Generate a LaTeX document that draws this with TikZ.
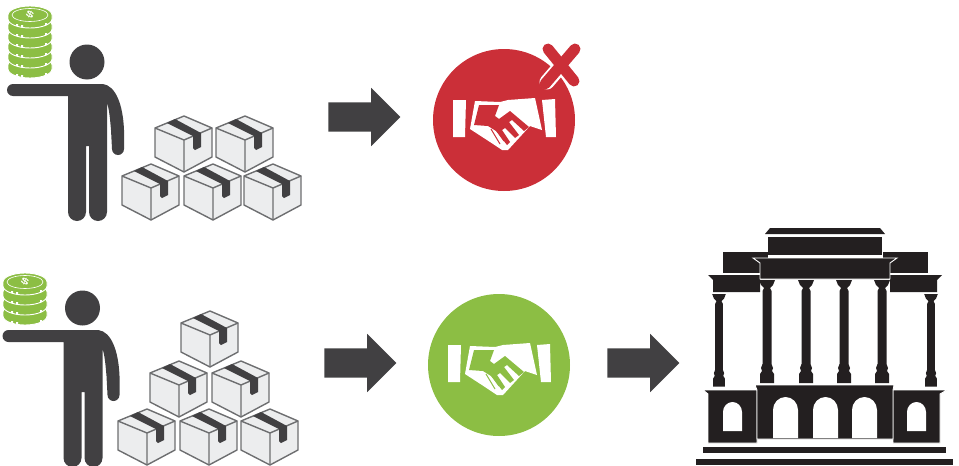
\documentclass[tikz,border=0pt]{standalone}
\usepackage{fontspec}
\setsansfont{Liberation Sans}
\usetikzlibrary{shapes.arrows}
\definecolor{figure}{HTML}{414042}
\definecolor{stone}{HTML}{231F20}
\definecolor{carton}{HTML}{ECEDEE}
\definecolor{cartonline}{HTML}{6D6E70}
\definecolor{dealred}{HTML}{CB2F38}
\definecolor{dealgreen}{HTML}{8CBE44}
\begin{document}
\begin{tikzpicture}[
  x=1pt, y=-1pt,
  blockarrow/.style={single arrow, fill=figure, inner sep=0pt, outer sep=0pt, text height=29pt, text depth=0pt,
    minimum height=72pt, single arrow head extend=14.5pt, single arrow head indent=0pt},
  deal/.style={circle, inner sep=0pt, minimum size=142pt},
  person/.pic={
    \fill[figure] (87,62) circle[radius=17.5];
    \fill[figure] (13,84) -- (103,84) .. controls (116,86) and (123,105) .. (124,130) -- (124,149)
      arc[start angle=0, end angle=180, radius=6] -- (111,130) .. controls (110,118) and (109,108) .. (107,103)
      -- (107,212) arc[start angle=0, end angle=180, radius=9] -- (89,146) -- (86,146) -- (86,212)
      arc[start angle=0, end angle=180, radius=9] -- (68,96) -- (13,96)
      arc[start angle=90, end angle=270, radius=6] -- cycle;
  },
  carton/.pic={
    \filldraw[fill=carton, draw=cartonline, line width=1.4pt, line join=round]
      (0,0) -- (-29,-12) -- (0,-24) -- (28,-12) -- (28,17) -- (0,32) -- (-29,17) -- (-29,-12);
    \draw[cartonline, line width=1.4pt] (0,0) -- (28,-12) (0,0) -- (0,32);
    \fill[figure] (-17,-17) -- (-9,-21) -- (17,-7) -- (17,7) -- (11,10) -- (9,8) -- (9,-4) -- cycle;
  },
  coins/.pic={
    \foreach \k in {#1,...,0}{
      \filldraw[fill=dealgreen, draw=white, line width=.9pt] (-22,10*\k) -- (-22,10*\k+4)
        arc[start angle=180, end angle=0, x radius=22, y radius=9] -- (22,10*\k)
        arc[start angle=0, end angle=-180, x radius=22, y radius=9] -- cycle;
      \fill[white] (-14,10*\k+9) rectangle ++(2,2) (-9,10*\k+10) rectangle ++(2,2) (15,10*\k+8) rectangle ++(2,2);
    }
    \draw[white, line width=.6pt] (0,0) ellipse[x radius=18, y radius=6.5];
    \node[white, inner sep=0pt, font=\sffamily\bfseries\Large, rotate=-25, yscale=.6] (dollar) at (0,0) {\$};
  },
  shake/.pic={
    \fill[white] (-51,-20) -- (-38,-20) -- (-39,17) -- (-51,17) -- cycle;
    \fill[white] (38,-20) -- (51,-21) -- (52,17) -- (42,17) -- cycle;
    \fill[white] (-29,-19) -- (-4,-18) -- (4,-20) -- (31,-22) -- (38,10) -- (26,6) -- (4,30) -- (-2,30) -- (-14,22) -- (-34,9) -- cycle;
    \fill[#1] (-25,-15) -- (-5,-15) -- (-9,-4) -- (-5,-1) -- (6,-9) -- (25,7) -- (20,11) -- (8,0) -- (5,2)
      -- (15,15) -- (11,18) -- (1,8) -- (-2,10) -- (6,22) -- (3,25) -- (-8,11) -- (-16,6) -- (-30,5) -- cycle;
    \draw[#1, line width=1pt] (-13,9) -- (-4,24) (-9,8) -- (0,21);
  },
  column/.pic={
    \fill[stone] (-8,0) -- (8,0) -- (6,5) -- (3,8) -- (4.5,11) -- (4.5,84) -- (6,88) -- (5,91) -- (7,94) -- (7,103)
      -- (-7,103) -- (-7,94) -- (-5,91) -- (-6,88) -- (-4.5,84) -- (-4.5,11) -- (-3,8) -- (-6,5) -- cycle;
  },
  archblock/.style={fill=stone, draw=white, line width=.9pt},
]
\useasboundingbox (0,0) rectangle (959,466);
% top row
\pic (manA) at (0,0) {person};
\pic (coinA) at (30,15) {coins=5};
\foreach \x/\y in {184/140,245/140,151/188,213/188,273/188}{
  \pic at (\x,\y) {carton};
}
\node[blockarrow] (arrowA) at (357,117) {};
\node[deal, fill=dealred] (failed) at (504,120) {};
\pic at (failed.center) {shake=dealred};
\draw[white, line width=15pt, line cap=round] (577,47) -- (547,82);
\draw[dealred, line width=11pt, line cap=round] (548,49) -- (574,81) (575,49) -- (545,84);
% bottom row
\pic (manB) at (-4.5,246) {person};
\pic (coinB) at (25,282) {coins=3};
\foreach \x/\y in {210/335,179/385,241/385,147/433,209/433,270/433}{
  \pic at (\x,\y) {carton};
}
\node[blockarrow] (arrowB) at (353,363) {};
\node[deal, fill=dealgreen] (agreed) at (499,365) {};
\pic at (agreed.center) {shake=dealgreen};
\node[blockarrow] (arrowC) at (636,363) {};
% building
\fill[stone] (770,228) -- (880,228) -- (885,234) -- (765,234) -- cycle;
\fill[stone] (768,237) rectangle (882,255);
\foreach \xa/\xb in {723/768,883/928}{
  \fill[stone] (\xa,252) rectangle (\xb,273);
}
\fill[stone] (708,275) -- (760,275) -- (760,292) -- (713,292) -- (713,280) -- cycle;
\fill[stone] (890,275) -- (942,275) -- (937,280) -- (937,292) -- (890,292) -- cycle;
\foreach \x in {719,931}{
  \pic[xscale=.85, yscale=.9] at (\x,294) {column};
}
\foreach \x in {767,806,844,882}{
  \pic at (\x,280) {column};
}
\draw[archblock] (753,258) -- (897,258) -- (890,263) -- (890,279) -- (760,279) -- (760,263) -- cycle;
\draw[archblock] (703,390) -- (757,390) -- (757,443) -- (708,443) -- (708,394) -- cycle;
\draw[archblock] (947,390) -- (893,390) -- (893,443) -- (940,443) -- (940,394) -- cycle;
\draw[archblock] (755,385) -- (894,385) -- (893,390) -- (893,439) -- (757,439) -- (757,390) -- cycle;
\foreach \x in {773,813,852}{
  \fill[white] (\x,438) -- (\x,410) arc[start angle=180, end angle=360, x radius=12.5, y radius=13] -- (\x+25,438) -- cycle;
}
\foreach \x in {723,907}{
  \fill[white] (\x,431) -- (\x,412) arc[start angle=180, end angle=360, x radius=9.5, y radius=10] -- (\x+19,431) -- cycle;
}
\fill[stone] (703,447) rectangle (946,453);
\fill[stone] (696,459) rectangle (953,465);
\end{tikzpicture}
\end{document}
